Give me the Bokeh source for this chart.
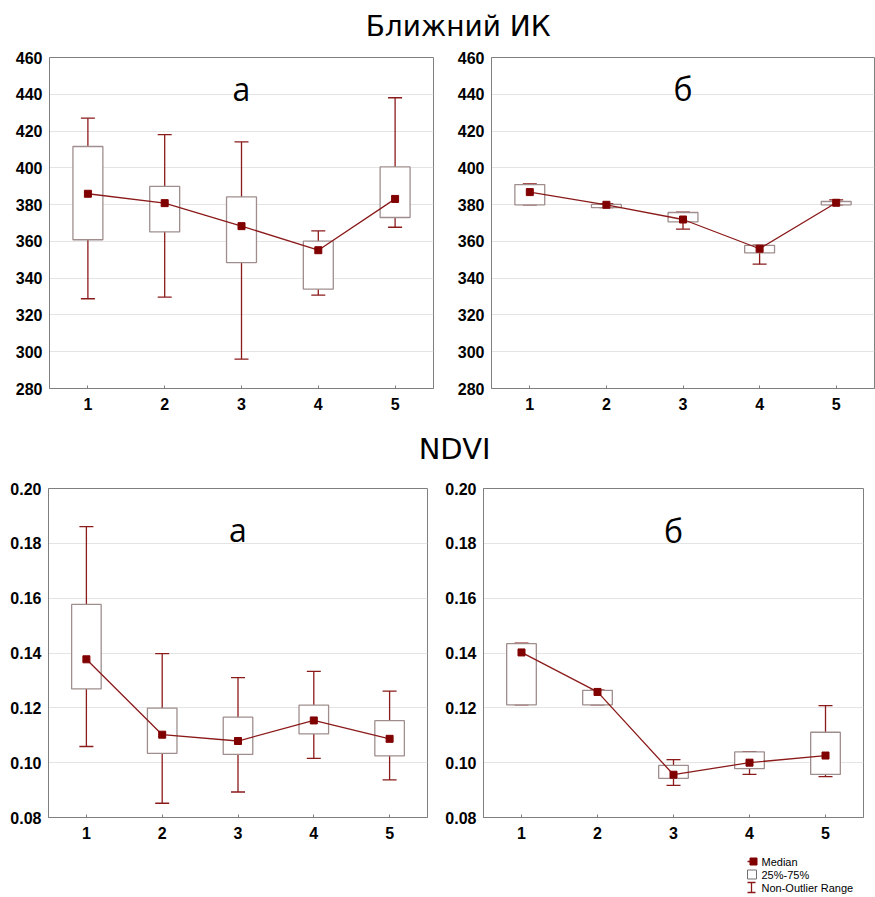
from bokeh.plotting import figure
from bokeh.layouts import column, row
from bokeh.models import Range1d, FixedTicker, Label, PrintfTickFormatter
from bokeh.core.properties import value
from bokeh.embed import file_html
from bokeh.resources import INLINE

# ---------------- data ----------------
groups = [1, 2, 3, 4, 5]
group_labels = ["1", "2", "3", "4", "5"]

nir_ticks = [280, 300, 320, 340, 360, 380, 400, 420, 440, 460]
ndvi_ticks = [0.08, 0.10, 0.12, 0.14, 0.16, 0.18, 0.20]

# Ближний ИК, panel а
nir_a_median = [385.9, 380.8, 368.3, 355.2, 383.1]
nir_a_q1 = [360.9, 365.2, 348.5, 334.0, 373.0]
nir_a_q3 = [411.6, 389.9, 384.2, 360.1, 400.5]
nir_a_min = [328.8, 329.7, 296.0, 330.8, 367.7]
nir_a_max = [427.0, 418.1, 414.1, 365.7, 438.1]

# Ближний ИК, panel б
nir_b_median = [386.8, 379.9, 371.9, 356.0, 381.0]
nir_b_q1 = [379.9, 378.4, 370.6, 353.8, 379.9]
nir_b_q3 = [390.9, 380.1, 375.7, 357.8, 381.7]
nir_b_min = [379.9, 378.4, 366.7, 347.6, 379.9]
nir_b_max = [391.3, 380.5, 375.9, 358.0, 382.6]

# NDVI, panel а
ndvi_a_median = [0.1377, 0.1102, 0.1079, 0.1154, 0.1087]
ndvi_a_q1 = [0.1269, 0.1034, 0.1030, 0.1105, 0.1025]
ndvi_a_q3 = [0.1577, 0.1199, 0.1166, 0.1210, 0.1153]
ndvi_a_min = [0.1059, 0.0852, 0.0893, 0.1016, 0.0937]
ndvi_a_max = [0.1861, 0.1398, 0.1310, 0.1333, 0.1261]

# NDVI, panel б
ndvi_b_median = [0.1402, 0.1258, 0.0956, 0.1000, 0.1026]
ndvi_b_q1 = [0.1211, 0.1211, 0.0943, 0.0978, 0.0957]
ndvi_b_q3 = [0.1434, 0.1264, 0.0990, 0.1039, 0.1111]
ndvi_b_min = [0.1211, 0.1211, 0.0917, 0.0957, 0.0949]
ndvi_b_max = [0.1436, 0.1265, 0.1011, 0.1040, 0.1208]

legend_labels = ["Median", "25%-75%", "Non-Outlier Range"]

# ---------------- style ----------------
RED = "#8b1a1a"
MED = "#800000"
BOX = "#a08e8e"
FRAME = "#7f7f7f"
GRID = "#e4e4e4"
TICK_FONT = "Liberation Sans"


def panel(width, height, borders, yr, yticks, fmt, letter, letter_off,
          med, q1, q3, lo, hi):
    left, right, top, bottom = borders
    p = figure(width=width, height=height, output_backend="svg",
               toolbar_location=None,
               x_range=Range1d(0.5, 5.5), y_range=Range1d(*yr),
               min_border_left=left, min_border_right=right,
               min_border_top=top, min_border_bottom=bottom)
    p.background_fill_color = "white"
    p.border_fill_color = "white"
    p.outline_line_color = FRAME
    p.outline_line_width = 1

    p.xaxis.ticker = FixedTicker(ticks=groups)
    p.xaxis.major_label_overrides = {g: s for g, s in zip(groups, group_labels)}
    p.yaxis.ticker = FixedTicker(ticks=yticks)
    if fmt:
        p.yaxis.formatter = PrintfTickFormatter(format=fmt)
    for ax in (p.xaxis[0], p.yaxis[0]):
        ax.axis_line_color = FRAME
        ax.major_tick_line_color = FRAME
        ax.minor_tick_line_color = None
        ax.major_tick_in = 3
        ax.major_tick_out = 0
        ax.major_label_text_font = TICK_FONT
        ax.major_label_text_font_style = "bold"
        ax.major_label_text_font_size = "16px"
        ax.major_label_text_color = "black"
    p.yaxis.major_tick_line_color = None
    p.yaxis.major_label_standoff = 7
    p.xaxis.major_label_standoff = 9

    p.xgrid.visible = False
    p.ygrid.grid_line_color = GRID
    p.ygrid.grid_line_width = 1

    # whisker stems and caps
    p.segment(x0=groups, y0=lo, x1=groups, y1=hi, line_color=RED, line_width=1.3)
    p.scatter(x=groups, y=hi, marker="dash", size=14, line_color=RED, line_width=1.3)
    p.scatter(x=groups, y=lo, marker="dash", size=14, line_color=RED, line_width=1.3)
    # boxes
    p.vbar(x=groups, width=0.39, top=q3, bottom=q1, fill_color="white",
           line_color=BOX, line_width=1.3)
    # medians
    p.line(x=groups, y=med, line_color=RED, line_width=1.3)
    p.scatter(x=groups, y=med, marker="square", size=7, fill_color=MED,
              line_color=MED)

    p.add_layout(Label(x=3, y=yr[1], y_offset=-letter_off, text=letter,
                       text_align="center", text_baseline="alphabetic",
                       text_font="Open Sans", text_font_size="32px",
                       text_color="black"))
    return p


def title_fig(text, width, height, xfrac, yfrac, size):
    t = figure(width=width, height=height, output_backend="svg",
               toolbar_location=None, x_axis_type=None, y_axis_type=None,
               x_range=Range1d(0, 1), y_range=Range1d(0, 1),
               min_border=0)
    t.outline_line_color = None
    t.grid.visible = False
    t.add_layout(Label(x=xfrac, y=yfrac, text=text, text_align="center",
                       text_baseline="middle", text_font="DejaVu Sans",
                       text_font_size=size, text_color="black"))
    return t


title1 = title_fig("Ближний ИК", 875, 45, 0.523, 0.42, "28px")
p1 = panel(438, 380, (49, 5, 12, 37), (280, 460), nir_ticks, None, "а", 31,
           nir_a_median, nir_a_q1, nir_a_q3, nir_a_min, nir_a_max)
p2 = panel(437, 380, (53, 1, 12, 37), (280, 460), nir_ticks, None, "б", 31,
           nir_b_median, nir_b_q1, nir_b_q3, nir_b_min, nir_b_max)
title2 = title_fig("NDVI", 875, 50, 0.519, 0.54, "29px")
p3 = panel(435, 370, (48, 8, 12, 28), (0.08, 0.20), ndvi_ticks, "%.2f", "а", 41,
           ndvi_a_median, ndvi_a_q1, ndvi_a_q3, ndvi_a_min, ndvi_a_max)
p4 = panel(440, 370, (48, 12, 13, 26), (0.08, 0.20), ndvi_ticks, "%.2f", "б", 42,
           ndvi_b_median, ndvi_b_q1, ndvi_b_q3, ndvi_b_min, ndvi_b_max)

# legend key (drawn in pixel space of its own small canvas)
lg = figure(width=875, height=52, output_backend="svg", toolbar_location=None,
            x_axis_type=None, y_axis_type=None,
            x_range=Range1d(0, 875), y_range=Range1d(52, 0), min_border=0)
lg.outline_line_color = None
lg.grid.visible = False
lg.segment(x0=[747], y0=[16], x1=[754], y1=[16], line_color=RED, line_width=1.3)
lg.scatter(x=[753], y=[16], marker="square", size=7, fill_color=MED, line_color=MED)
lg.rect(x=[751.5], y=[29], width=9, height=9, fill_color="white", line_color="#707070")
lg.segment(x0=[751], y0=[37], x1=[751], y1=[47], line_color=RED, line_width=1.3)
lg.segment(x0=[747, 747], y0=[37, 47], x1=[755, 755], y1=[37, 47],
           line_color=RED, line_width=1.3)
lg.text(x=[761, 761, 761], y=[16, 29, 42], text=legend_labels,
        text_font_size="11px", text_baseline="middle", text_align="left",
        text_color="black", text_font=value("Liberation Sans"))

layout = column(title1, row(p1, p2), title2, row(p3, p4), lg)

open("out.html", "w").write(file_html(layout, INLINE))
